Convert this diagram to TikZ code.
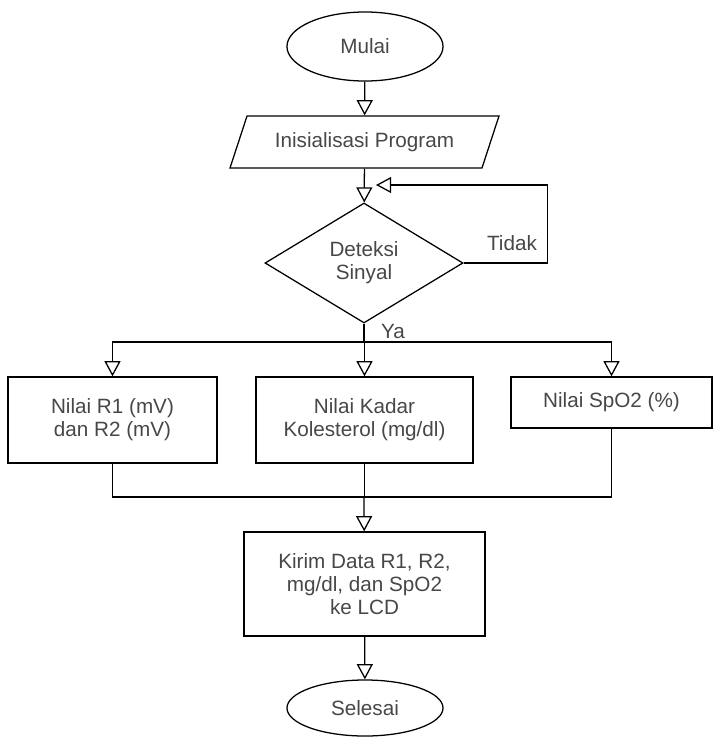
\documentclass[tikz,border=0pt]{standalone}
\usepackage{fontspec}
\setmainfont{Liberation Sans}
\usepackage{tikz}
\usetikzlibrary{arrows.meta,shapes.geometric}

\begin{document}
\begin{tikzpicture}[x=0.025cm,y=-0.025cm,line width=0.9pt,
  font=\fontsize{14.7}{16.5}\selectfont,
  txt/.style={text=black!72,align=center,inner sep=0pt},
  term/.style={txt,draw,ellipse,minimum width=3.9cm},
  io/.style={txt,draw,trapezium,trapezium left angle=56,trapezium right angle=124,
    trapezium stretches=true,minimum width=6.725cm,minimum height=1.3cm},
  cond/.style={txt,draw,diamond,minimum width=4.95cm,minimum height=3cm},
  proc/.style={txt,draw,rectangle,minimum height=2.15cm},
  arr/.style={-{Triangle[open,length=3.8mm,width=4mm]}}]
\useasboundingbox (0,0) rectangle (714,738);
% main column
\node[term,minimum height=1.725cm] (mulai) at (365,46.5) {Mulai};
\node[io] (init) at (364.5,142) {Inisialisasi Program};
\node[cond] (deteksi) at (364,263) {Deteksi\\Sinyal};
% three readings
\node[proc,minimum width=5.225cm] (rval) at (112.5,420) {Nilai R1 (mV)\\dan R2 (mV)};
\node[proc,minimum width=5.425cm] (kadar) at (364.5,420) {Nilai Kadar\\Kolesterol (mg/dl)};
\node[proc,minimum width=5.025cm,minimum height=1.275cm] (spo) at (611.5,402.5) {Nilai SpO2 (\%)};
\node[proc,minimum width=6.025cm,minimum height=2.6cm] (kirim) at (364.5,584) {Kirim Data R1, R2,\\mg/dl, dan SpO2\\ke LCD};
\node[term,minimum height=1.4cm] (selesai) at (365,708) {Selesai};
% labels
\node[txt] (tidak) at (512,243) {Tidak};
\node[txt] (ya) at (393,331) {Ya};
\coordinate (split) at (364,342);
\coordinate (merge) at (364,497);
\coordinate (back) at (376,185);
% connectors
\draw[arr] (mulai) -- (init);
\draw[arr] (init) -- (deteksi);
\draw[arr] (deteksi.east) -- ++(84,0) |- (back);
\draw (deteksi.south) -- (split);
\foreach \b in {rval,kadar,spo}{
  \draw[arr] (split) -| (\b.north);
  \draw (\b.south) |- (merge);
}
\draw[arr] (merge) -- (kirim);
\draw[arr] (kirim) -- (selesai);
\end{tikzpicture}
\end{document}
